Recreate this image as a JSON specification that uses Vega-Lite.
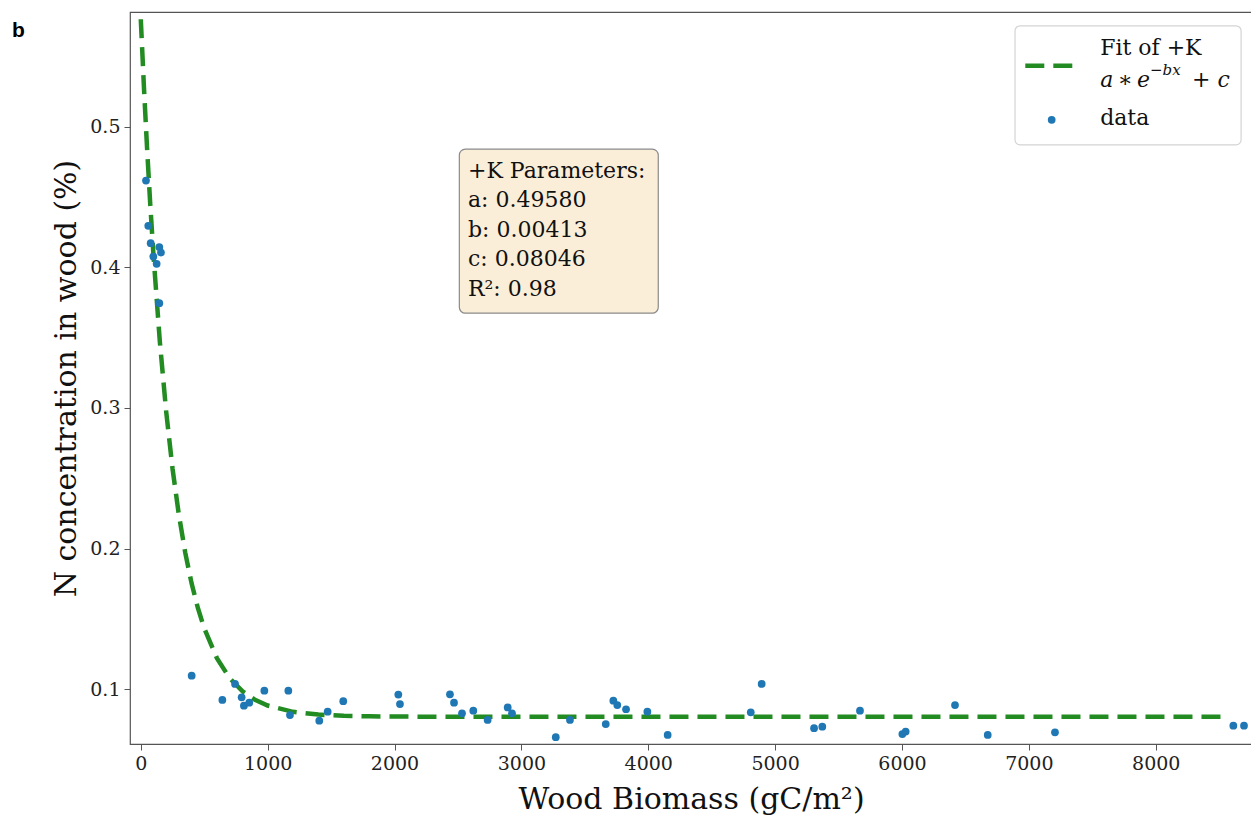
{
  "$schema": "https://vega.github.io/schema/vega-lite/v6.json",
  "autosize": "none",
  "width": 1122,
  "height": 732,
  "padding": {"left": 130, "top": 12, "right": 0, "bottom": 74},
  "background": "white",
  "title": {"text": "b", "anchor": "start", "frame": "group", "orient": "top", "font": "Liberation Sans", "fontWeight": "bold", "fontSize": 21, "baseline": "alphabetic", "offset": -26, "dx": -118, "dy": 20, "color": "black"},
  "config": {
    "view": {"stroke": "#555555", "strokeWidth": 1.2},
    "axis": {"grid": false, "domain": false, "tickColor": "#555555", "tickSize": 6, "labelFont": "DejaVu Serif", "labelFontSize": 19, "labelColor": "#222222", "titleFont": "DejaVu Serif", "titleFontSize": 30, "titleFontWeight": "normal", "titleColor": "#111111"}
  },
  "datasets": {
    "points": [
      {"x": 41, "y": 0.4616}, {"x": 59, "y": 0.4294}, {"x": 78, "y": 0.4171}, {"x": 146, "y": 0.4143},
      {"x": 159, "y": 0.4104}, {"x": 99, "y": 0.4076}, {"x": 125, "y": 0.4024}, {"x": 146, "y": 0.3744},
      {"x": 401, "y": 0.1097}, {"x": 643, "y": 0.0924}, {"x": 743, "y": 0.1038}, {"x": 795, "y": 0.0943},
      {"x": 813, "y": 0.0883}, {"x": 855, "y": 0.0905}, {"x": 974, "y": 0.099}, {"x": 1163, "y": 0.099},
      {"x": 1176, "y": 0.0817}, {"x": 1407, "y": 0.0777}, {"x": 1473, "y": 0.0841}, {"x": 1596, "y": 0.0915},
      {"x": 2030, "y": 0.0962}, {"x": 2043, "y": 0.0895}, {"x": 2437, "y": 0.0964}, {"x": 2469, "y": 0.0905},
      {"x": 2532, "y": 0.0829}, {"x": 2621, "y": 0.0848}, {"x": 2734, "y": 0.0782}, {"x": 2892, "y": 0.0871},
      {"x": 2926, "y": 0.0829}, {"x": 3271, "y": 0.0659}, {"x": 3383, "y": 0.0782}, {"x": 3665, "y": 0.0753},
      {"x": 3725, "y": 0.0919}, {"x": 3756, "y": 0.0888}, {"x": 3825, "y": 0.0858}, {"x": 3993, "y": 0.0841},
      {"x": 4153, "y": 0.0675}, {"x": 4808, "y": 0.0836}, {"x": 4894, "y": 0.1038}, {"x": 5307, "y": 0.0723},
      {"x": 5372, "y": 0.0734}, {"x": 5669, "y": 0.0848}, {"x": 6003, "y": 0.0682}, {"x": 6029, "y": 0.0699},
      {"x": 6418, "y": 0.0888}, {"x": 6676, "y": 0.0675}, {"x": 7206, "y": 0.0694}, {"x": 8612, "y": 0.0741},
      {"x": 8696, "y": 0.0741}
    ],
    "fit": [
      {"x": 0, "y": 0.57626}, {"x": 25, "y": 0.52762}, {"x": 50, "y": 0.48376}, {"x": 75, "y": 0.4442},
      {"x": 100, "y": 0.40853}, {"x": 150, "y": 0.34731}, {"x": 200, "y": 0.29753}, {"x": 250, "y": 0.25702},
      {"x": 300, "y": 0.22408}, {"x": 350, "y": 0.19728}, {"x": 400, "y": 0.17548}, {"x": 450, "y": 0.15776},
      {"x": 500, "y": 0.14334}, {"x": 600, "y": 0.12206}, {"x": 700, "y": 0.10799}, {"x": 800, "y": 0.09867},
      {"x": 900, "y": 0.09251}, {"x": 1000, "y": 0.08843}, {"x": 1200, "y": 0.08395}, {"x": 1400, "y": 0.08199},
      {"x": 1600, "y": 0.08113}, {"x": 1800, "y": 0.08075}, {"x": 2000, "y": 0.08059}, {"x": 2500, "y": 0.08048},
      {"x": 3000, "y": 0.08046}, {"x": 8520, "y": 0.08046}
    ],
    "box": [{"x1": 2511, "x2": 4079, "y1": 0.4839, "y2": 0.3673}],
    "params": [{"x": 2579, "y": 0.4756, "text": "+K Parameters:\na: 0.49580\nb: 0.00413\nc: 0.08046\nR²: 0.98"}],
    "legendBox": [{"x1": 6891, "x2": 8673, "y1": 0.5716, "y2": 0.4870}],
    "legendLine": [{"x": 6972, "y": 0.5432}, {"x": 7351, "y": 0.5432}],
    "legendDot": [{"x": 7180, "y": 0.5048}],
    "legendText": [{"x": 7562, "y": 0.5560, "text": "Fit of +K"}, {"x": 7562, "y": 0.5063, "text": "data"}],
    "legendMath": [{"x": 7562, "y": 0.5333, "text": "a\u2009∗\u2009e"}, {"x": 8286, "y": 0.5333, "text": "+ c"}],
    "legendSup": [{"x": 7955, "y": 0.5403, "text": "−bx"}]
  },
  "layer": [
    {
      "data": {"name": "fit"},
      "mark": {"type": "line", "strokeWidth": 4.5, "strokeDash": [19, 9], "color": "#228b22", "clip": true},
      "encoding": {
        "x": {"field": "x", "type": "quantitative", "scale": {"domain": [-85, 8759], "nice": false, "zero": false},
              "axis": {"values": [0, 1000, 2000, 3000, 4000, 5000, 6000, 7000, 8000], "format": "d", "title": "Wood Biomass (gC/m²)", "titlePadding": 11, "labelPadding": 4}},
        "y": {"field": "y", "type": "quantitative", "scale": {"domain": [0.0611, 0.5814], "nice": false, "zero": false},
              "axis": {"values": [0.1, 0.2, 0.3, 0.4, 0.5], "format": ".1f", "title": "N concentration in wood (%)", "titlePadding": 8, "labelPadding": 4}}
      }
    },
    {
      "data": {"name": "points"},
      "mark": {"type": "circle", "size": 60, "opacity": 1, "color": "#1f77b4"},
      "encoding": {
        "x": {"field": "x", "type": "quantitative"},
        "y": {"field": "y", "type": "quantitative"}
      }
    },
    {
      "data": {"name": "box"},
      "mark": {"type": "rect", "fill": "#faeed9", "stroke": "#8a8a8a", "strokeWidth": 1.2, "cornerRadius": 6},
      "encoding": {
        "x": {"field": "x1", "type": "quantitative"},
        "x2": {"field": "x2"},
        "y": {"field": "y1", "type": "quantitative"},
        "y2": {"field": "y2"}
      }
    },
    {
      "data": {"name": "params"},
      "mark": {"type": "text", "align": "left", "baseline": "top", "lineBreak": "\n", "lineHeight": 29.5, "font": "DejaVu Serif", "fontSize": 22, "color": "#111111"},
      "encoding": {
        "x": {"field": "x", "type": "quantitative"},
        "y": {"field": "y", "type": "quantitative"},
        "text": {"field": "text"}
      }
    },
    {
      "data": {"name": "legendBox"},
      "mark": {"type": "rect", "fill": "white", "fillOpacity": 0.9, "stroke": "#d4d4d4", "strokeWidth": 1.2, "cornerRadius": 5},
      "encoding": {
        "x": {"field": "x1", "type": "quantitative"},
        "x2": {"field": "x2"},
        "y": {"field": "y1", "type": "quantitative"},
        "y2": {"field": "y2"}
      }
    },
    {
      "data": {"name": "legendLine"},
      "mark": {"type": "line", "strokeWidth": 4.5, "strokeDash": [19, 9], "color": "#228b22"},
      "encoding": {
        "x": {"field": "x", "type": "quantitative"},
        "y": {"field": "y", "type": "quantitative"}
      }
    },
    {
      "data": {"name": "legendDot"},
      "mark": {"type": "circle", "size": 60, "opacity": 1, "color": "#1f77b4"},
      "encoding": {
        "x": {"field": "x", "type": "quantitative"},
        "y": {"field": "y", "type": "quantitative"}
      }
    },
    {
      "data": {"name": "legendText"},
      "mark": {"type": "text", "align": "left", "baseline": "middle", "font": "DejaVu Serif", "fontSize": 22, "color": "#111111"},
      "encoding": {
        "x": {"field": "x", "type": "quantitative"},
        "y": {"field": "y", "type": "quantitative"},
        "text": {"field": "text"}
      }
    },
    {
      "data": {"name": "legendMath"},
      "mark": {"type": "text", "align": "left", "baseline": "middle", "font": "DejaVu Serif", "fontStyle": "italic", "fontSize": 22, "color": "#111111"},
      "encoding": {
        "x": {"field": "x", "type": "quantitative"},
        "y": {"field": "y", "type": "quantitative"},
        "text": {"field": "text"}
      }
    },
    {
      "data": {"name": "legendSup"},
      "mark": {"type": "text", "align": "left", "baseline": "middle", "font": "DejaVu Serif", "fontStyle": "italic", "fontSize": 15, "color": "#111111"},
      "encoding": {
        "x": {"field": "x", "type": "quantitative"},
        "y": {"field": "y", "type": "quantitative"},
        "text": {"field": "text"}
      }
    }
  ]
}
